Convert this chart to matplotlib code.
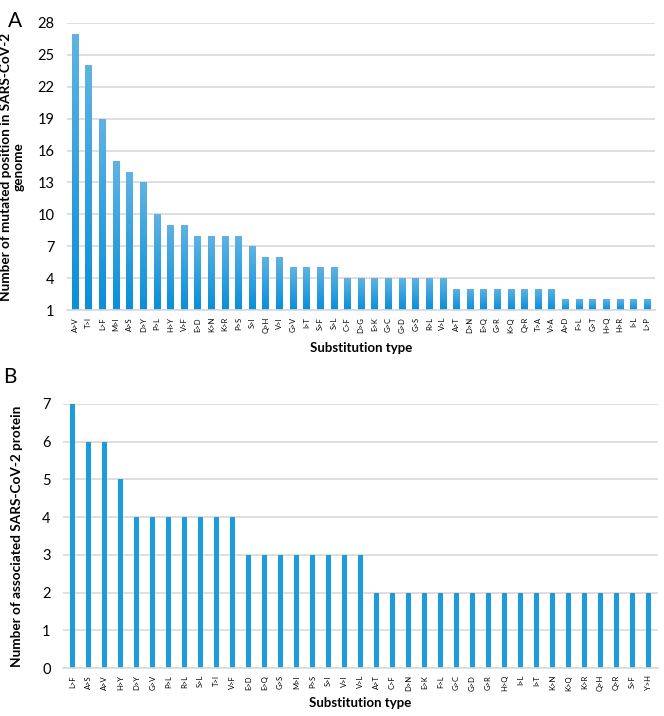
import numpy as np
import matplotlib
matplotlib.use("Agg")
import matplotlib.pyplot as plt
from matplotlib.colors import LinearSegmentedColormap
from matplotlib.patches import Rectangle

plt.rcParams['font.family'] = ['Lato', 'DejaVu Sans']

# Panel A: mutated positions per substitution type
subs_a = ['A>V', 'T>I', 'L>F', 'M>I', 'A>S', 'D>Y', 'P>L', 'H>Y', 'V>F', 'E>D',
          'K>N', 'K>R', 'P>S', 'S>I', 'Q>H', 'V>I', 'G>V', 'I>T', 'S>F', 'S>L',
          'C>F', 'D>G', 'E>K', 'G>C', 'G>D', 'G>S', 'R>L', 'V>L', 'A>T', 'D>N',
          'E>Q', 'G>R', 'K>Q', 'Q>R', 'T>A', 'V>A', 'A>D', 'F>L', 'G>T', 'H>Q',
          'H>R', 'I>L', 'L>P']
counts_a = [27, 24, 19, 15, 14, 13, 10, 9, 9, 8,
            8, 8, 8, 7, 6, 6, 5, 5, 5, 5,
            4, 4, 4, 4, 4, 4, 4, 4, 3, 3,
            3, 3, 3, 3, 3, 3, 2, 2, 2, 2,
            2, 2, 2]
yticks_a = [1, 4, 7, 10, 13, 16, 19, 22, 25, 28]

# Panel B: associated proteins per substitution type
subs_b = ['L>F', 'A>S', 'A>V', 'H>Y', 'D>Y', 'G>V', 'P>L', 'R>L', 'S>L', 'T>I',
          'V>F', 'E>D', 'E>Q', 'G>S', 'M>I', 'P>S', 'S>I', 'V>I', 'V>L', 'A>T',
          'C>F', 'D>N', 'E>K', 'F>L', 'G>C', 'G>D', 'G>R', 'H>Q', 'I>L', 'I>T',
          'K>N', 'K>Q', 'K>R', 'Q>H', 'Q>R', 'S>F', 'Y>H']
counts_b = [7, 6, 6, 5, 4, 4, 4, 4, 4, 4,
            4, 3, 3, 3, 3, 3, 3, 3, 3, 2,
            2, 2, 2, 2, 2, 2, 2, 2, 2, 2,
            2, 2, 2, 2, 2, 2, 2]
yticks_b = [0, 1, 2, 3, 4, 5, 6, 7]

grid_color = '#d9d9d9'
bar_color = '#1c9cdb'
grad = LinearSegmentedColormap.from_list('g', ['#0a8fd8', '#5fb3e3'])


def style_axes(ax):
    for s in ['top', 'right', 'left']:
        ax.spines[s].set_visible(False)
    ax.spines['bottom'].set_color(grid_color)
    ax.spines['bottom'].set_linewidth(1.2)
    ax.yaxis.grid(True, color=grid_color, linewidth=1.2)
    ax.set_axisbelow(True)
    ax.tick_params(axis='both', length=0)
    ax.tick_params(axis='y', labelsize=10.5, pad=9)
    ax.tick_params(axis='x', labelsize=5.5, labelrotation=90, pad=5)


fig = plt.figure(figsize=(6.64, 7.16), dpi=100)

# Panel A
axA = fig.add_axes([0.101, 0.567, 0.886, 0.401])
xa = np.arange(len(subs_a))
bars = axA.bar(xa, np.array(counts_a) - 1, bottom=1, width=0.5, color='none')
for b in bars:
    x0, y0 = b.get_x(), b.get_y()
    w, h = b.get_width(), b.get_height()
    im = axA.imshow(np.linspace(0, 1, 100).reshape(-1, 1), cmap=grad,
                    extent=[x0, x0 + w, y0, y0 + h], origin='lower',
                    aspect='auto', zorder=2)
    im.set_clip_path(Rectangle((x0, y0), w, h, transform=axA.transData))
axA.set_aspect('auto')
axA.set_xlim(-0.6, len(subs_a) - 0.4)
axA.set_ylim(1, 28)
axA.set_yticks(yticks_a)
axA.set_xticks(xa)
axA.set_xticklabels(subs_a)
style_axes(axA)
axA.set_xlabel('Substitution type', fontsize=9.5, fontweight='bold', labelpad=6)
axA.set_ylabel('Number of mutated position in SARS-CoV-2\ngenome',
               fontsize=9.8, fontweight='bold', linespacing=1.1)
axA.yaxis.set_label_coords(-0.072, 0.5)

# Panel B
axB = fig.add_axes([0.095, 0.067, 0.896, 0.369])
xb = np.arange(len(subs_b))
axB.bar(xb, counts_b, width=0.32, color=bar_color, zorder=2)
axB.set_xlim(-0.6, len(subs_b) - 0.4)
axB.set_ylim(0, 7)
axB.set_yticks(yticks_b)
axB.set_xticks(xb)
axB.set_xticklabels(subs_b)
style_axes(axB)
axB.set_xlabel('Substitution type', fontsize=9.5, fontweight='bold', labelpad=4)
axB.set_ylabel('Number of associated SARS-CoV-2 protein',
               fontsize=9.8, fontweight='bold')
axB.yaxis.set_label_coords(-0.068, 0.5)

fig.text(0.012, 0.985, 'A', fontsize=15, va='top')
fig.text(0.004, 0.488, 'B', fontsize=15, va='top')

fig.savefig('out.png', dpi=100)
